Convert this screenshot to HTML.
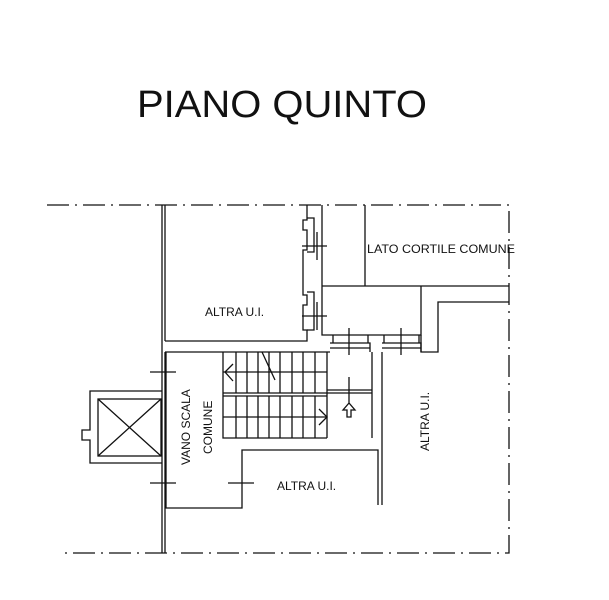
<!DOCTYPE html>
<html><head><meta charset="utf-8"><style>
html,body{margin:0;padding:0;background:#fff;}
svg{display:block;}
text{font-family:"Liberation Sans",Arial,sans-serif;fill:#111;}
</style></head><body>
<svg width="609" height="600" viewBox="0 0 609 600" xmlns="http://www.w3.org/2000/svg">
<rect width="609" height="600" fill="#fff"/>
<text x="137" y="117" font-size="38" textLength="290" lengthAdjust="spacingAndGlyphs">PIANO QUINTO</text>
<g fill="none" stroke="#111" stroke-width="1.3">
<path d="M47 205 H509 V553 H62" stroke-dasharray="22,6,2,6"/>
<path d="M162 205 V553 M165 205 V341 M165 352 V553"/>
<path d="M165 341 H307 V330 H303 V305 H307 V295 H303 V250 H307 V230 H303 V220 H307 V205"/>
<path d="M307 218 H314 V252 H307 M307 292 H314 V330 H307"/>
<path d="M302 246 H327 M317 232 V260 M302 316 H327 M317 302 V330"/>
<path d="M322 205 V335 H421 V286 M322 286 H509 M365 205 V286"/>
<path d="M421 335 V352 H438 V302 H509"/>
<path d="M333 335 V343 H368 V335 M330 343 H370 V352 M330 348 H370" />
<path d="M384 335 V343 H419 V335 M382 343 H421 V352 M382 348 H421"/>
<path d="M349 328 V355 M401 328 V355"/>
<path d="M165 352 H330"/>
<path d="M166 352 V508 H242 V450 H378 V505 M382 352 V505 M372 352 V438"/>
<path d="M150 372 H176 M150 483 H176 M228 483 H254"/>
<path d="M223 352 V438 H327 M223 393 H372 M223 396 H327 M327 352 V438 M327 390 H372 M223 372 H327 M223 417 H327"/>
<path d="M236 352 V393 M247 352 V393 M258 352 V393 M269 352 V393 M280 352 V393 M292 352 V393 M303 352 V393 M315 352 V393"/>
<path d="M236 396 V438 M247 396 V438 M258 396 V438 M269 396 V438 M280 396 V438 M292 396 V438 M303 396 V438 M315 396 V438"/>
<path d="M233 364 L225 372 L233 381 M319 409 L327 417 L319 425"/>
<path d="M262 352 L275 380 M349 377 V403 M349 403 L343 410 H347 V417 H351 V410 H355 Z"/>
<path d="M162 391 H90 V430 H82 V440 H90 V463 H162"/>
<rect x="98" y="399" width="63" height="57"/>
<path d="M98 399 L161 456 M161 399 L98 456"/>
</g>
<text x="205" y="316" font-size="12">ALTRA U.I.</text>
<text x="367" y="253" font-size="12" textLength="148" lengthAdjust="spacingAndGlyphs">LATO CORTILE COMUNE</text>
<text x="277" y="490" font-size="12">ALTRA U.I.</text>
<text font-size="12" transform="translate(190,465) rotate(-90)">VANO SCALA</text>
<text font-size="12" transform="translate(212,454) rotate(-90)">COMUNE</text>
<text font-size="12" transform="translate(429,451) rotate(-90)">ALTRA U.I.</text>
</svg>
</body></html>
